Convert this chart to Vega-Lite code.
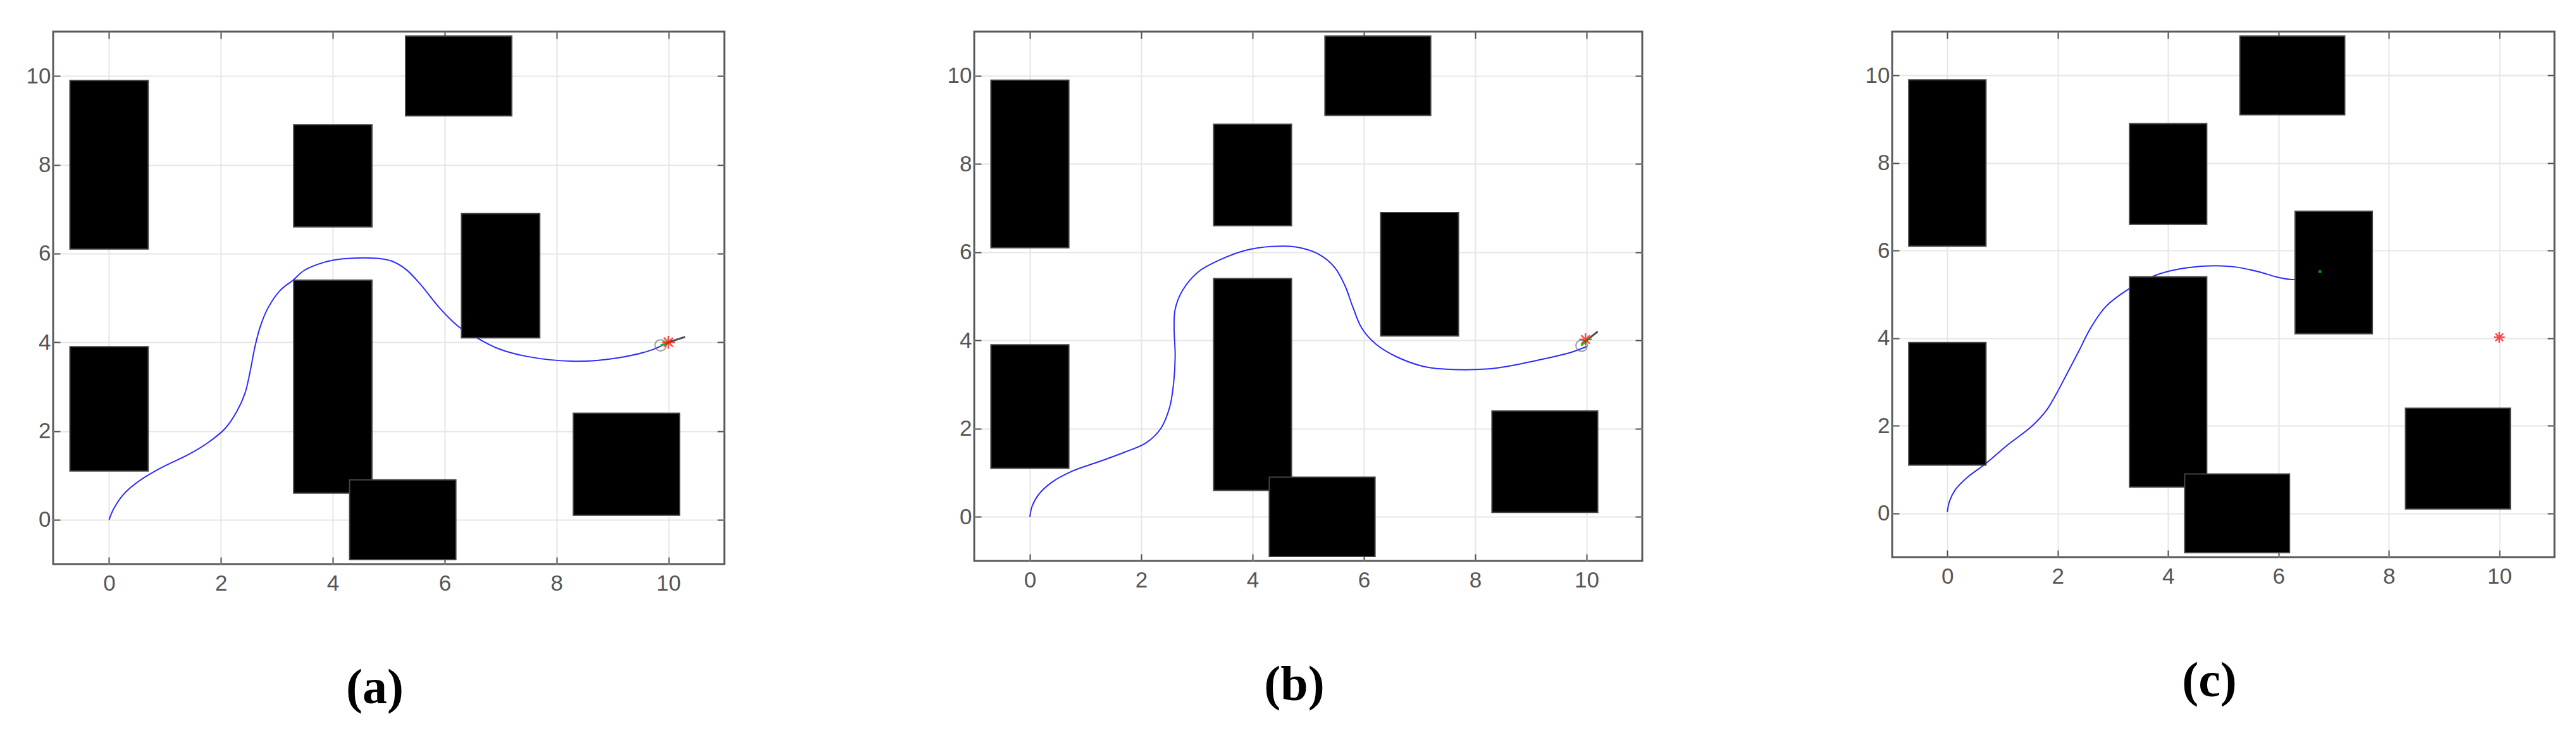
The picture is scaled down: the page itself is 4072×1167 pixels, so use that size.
{
  "$schema": "https://vega.github.io/schema/vega-lite/v6.json",
  "background": "white",
  "padding": {"left": 39, "top": 47, "right": 0, "bottom": 0},
  "spacing": 347,
  "config": {
    "view": {"stroke": "#5a5a5a", "strokeWidth": 3},
    "axis": {
      "title": null,
      "labelFont": "Liberation Sans",
      "labelFontSize": 35,
      "labelColor": "#555555",
      "gridColor": "#e6e6e6",
      "gridWidth": 2,
      "domain": false,
      "tickColor": "#505050",
      "tickWidth": 2,
      "tickSize": -11,
      "format": "d"
    },
    "axisBottom": {"labelPadding": 24},
    "axisLeft": {"labelPadding": 15},
    "title": {
      "font": "Liberation Serif",
      "fontSize": 78,
      "fontWeight": "bold",
      "color": "black",
      "orient": "bottom",
      "anchor": "middle",
      "offset": 110,
      "dx": -22
    }
  },
  "datasets": {
    "obstacles": [
      {"x1": -0.7, "x2": 0.7, "y1": 6.1, "y2": 9.9},
      {"x1": -0.7, "x2": 0.7, "y1": 1.1, "y2": 3.9},
      {"x1": 3.3, "x2": 4.7, "y1": 6.6, "y2": 8.9},
      {"x1": 3.3, "x2": 4.7, "y1": 0.6, "y2": 5.4},
      {"x1": 4.3, "x2": 6.2, "y1": -0.9, "y2": 0.9},
      {"x1": 5.3, "x2": 7.2, "y1": 9.1, "y2": 10.9},
      {"x1": 6.3, "x2": 7.7, "y1": 4.1, "y2": 6.9},
      {"x1": 8.3, "x2": 10.2, "y1": 0.1, "y2": 2.4}
    ],
    "paths": [
      {"panel": "a", "i": 0, "x": 0, "y": 0},
      {"panel": "a", "i": 1, "x": 0.08, "y": 0.24},
      {"panel": "a", "i": 2, "x": 0.25, "y": 0.56},
      {"panel": "a", "i": 3, "x": 0.51, "y": 0.85},
      {"panel": "a", "i": 4, "x": 0.9, "y": 1.15},
      {"panel": "a", "i": 5, "x": 1.42, "y": 1.47},
      {"panel": "a", "i": 6, "x": 1.76, "y": 1.73},
      {"panel": "a", "i": 7, "x": 2.07, "y": 2.05},
      {"panel": "a", "i": 8, "x": 2.28, "y": 2.43},
      {"panel": "a", "i": 9, "x": 2.43, "y": 2.85},
      {"panel": "a", "i": 10, "x": 2.52, "y": 3.33},
      {"panel": "a", "i": 11, "x": 2.61, "y": 3.91},
      {"panel": "a", "i": 12, "x": 2.7, "y": 4.34},
      {"panel": "a", "i": 13, "x": 2.84, "y": 4.77},
      {"panel": "a", "i": 14, "x": 3.06, "y": 5.17},
      {"panel": "a", "i": 15, "x": 3.29, "y": 5.4},
      {"panel": "a", "i": 16, "x": 3.49, "y": 5.62},
      {"panel": "a", "i": 17, "x": 3.84, "y": 5.8},
      {"panel": "a", "i": 18, "x": 4.18, "y": 5.88},
      {"panel": "a", "i": 19, "x": 4.79, "y": 5.89},
      {"panel": "a", "i": 20, "x": 5.05, "y": 5.83},
      {"panel": "a", "i": 21, "x": 5.31, "y": 5.64},
      {"panel": "a", "i": 22, "x": 5.57, "y": 5.3},
      {"panel": "a", "i": 23, "x": 5.91, "y": 4.77},
      {"panel": "a", "i": 24, "x": 6.26, "y": 4.34},
      {"panel": "a", "i": 25, "x": 6.56, "y": 4.11},
      {"panel": "a", "i": 26, "x": 6.95, "y": 3.86},
      {"panel": "a", "i": 27, "x": 7.47, "y": 3.68},
      {"panel": "a", "i": 28, "x": 8.33, "y": 3.57},
      {"panel": "a", "i": 29, "x": 9.11, "y": 3.65},
      {"panel": "a", "i": 30, "x": 9.71, "y": 3.83},
      {"panel": "a", "i": 31, "x": 10.0, "y": 4.0},
      {"panel": "b", "i": 0, "x": 0, "y": 0},
      {"panel": "b", "i": 1, "x": 0.04, "y": 0.24},
      {"panel": "b", "i": 2, "x": 0.16, "y": 0.51},
      {"panel": "b", "i": 3, "x": 0.39, "y": 0.78},
      {"panel": "b", "i": 4, "x": 0.77, "y": 1.04},
      {"panel": "b", "i": 5, "x": 1.24, "y": 1.25},
      {"panel": "b", "i": 6, "x": 1.71, "y": 1.47},
      {"panel": "b", "i": 7, "x": 2.09, "y": 1.68},
      {"panel": "b", "i": 8, "x": 2.35, "y": 2.0},
      {"panel": "b", "i": 9, "x": 2.51, "y": 2.48},
      {"panel": "b", "i": 10, "x": 2.58, "y": 3.01},
      {"panel": "b", "i": 11, "x": 2.61, "y": 3.65},
      {"panel": "b", "i": 12, "x": 2.59, "y": 4.28},
      {"panel": "b", "i": 13, "x": 2.61, "y": 4.71},
      {"panel": "b", "i": 14, "x": 2.74, "y": 5.13},
      {"panel": "b", "i": 15, "x": 3.03, "y": 5.56},
      {"panel": "b", "i": 16, "x": 3.4, "y": 5.82},
      {"panel": "b", "i": 17, "x": 3.87, "y": 6.04},
      {"panel": "b", "i": 18, "x": 4.34, "y": 6.13},
      {"panel": "b", "i": 19, "x": 4.81, "y": 6.11},
      {"panel": "b", "i": 20, "x": 5.19, "y": 5.95},
      {"panel": "b", "i": 21, "x": 5.47, "y": 5.66},
      {"panel": "b", "i": 22, "x": 5.66, "y": 5.24},
      {"panel": "b", "i": 23, "x": 5.8, "y": 4.76},
      {"panel": "b", "i": 24, "x": 5.96, "y": 4.28},
      {"panel": "b", "i": 25, "x": 6.22, "y": 3.91},
      {"panel": "b", "i": 26, "x": 6.6, "y": 3.62},
      {"panel": "b", "i": 27, "x": 7.07, "y": 3.41},
      {"panel": "b", "i": 28, "x": 7.44, "y": 3.35},
      {"panel": "b", "i": 29, "x": 8.2, "y": 3.35},
      {"panel": "b", "i": 30, "x": 8.66, "y": 3.43},
      {"panel": "b", "i": 31, "x": 9.23, "y": 3.58},
      {"panel": "b", "i": 32, "x": 9.7, "y": 3.72},
      {"panel": "b", "i": 33, "x": 10.0, "y": 3.86},
      {"panel": "c", "i": 0, "x": 0, "y": 0.03},
      {"panel": "c", "i": 1, "x": 0.04, "y": 0.28},
      {"panel": "c", "i": 2, "x": 0.15, "y": 0.55},
      {"panel": "c", "i": 3, "x": 0.37, "y": 0.83},
      {"panel": "c", "i": 4, "x": 0.69, "y": 1.13},
      {"panel": "c", "i": 5, "x": 1.09, "y": 1.56},
      {"panel": "c", "i": 6, "x": 1.53, "y": 1.99},
      {"panel": "c", "i": 7, "x": 1.8, "y": 2.36},
      {"panel": "c", "i": 8, "x": 1.98, "y": 2.74},
      {"panel": "c", "i": 9, "x": 2.16, "y": 3.17},
      {"panel": "c", "i": 10, "x": 2.38, "y": 3.7},
      {"panel": "c", "i": 11, "x": 2.6, "y": 4.24},
      {"panel": "c", "i": 12, "x": 2.87, "y": 4.72},
      {"panel": "c", "i": 13, "x": 3.27, "y": 5.11},
      {"panel": "c", "i": 14, "x": 3.76, "y": 5.43},
      {"panel": "c", "i": 15, "x": 4.21, "y": 5.58},
      {"panel": "c", "i": 16, "x": 4.74, "y": 5.65},
      {"panel": "c", "i": 17, "x": 5.19, "y": 5.63},
      {"panel": "c", "i": 18, "x": 5.63, "y": 5.52},
      {"panel": "c", "i": 19, "x": 5.99, "y": 5.39},
      {"panel": "c", "i": 20, "x": 6.28, "y": 5.34},
      {"panel": "c", "i": 21, "x": 6.75, "y": 5.5}
    ],
    "circles": [
      {"panel": "a", "x": 9.86, "y": 3.93},
      {"panel": "b", "x": 9.91, "y": 3.88}
    ],
    "segments": [
      {"panel": "a", "kind": "heading", "x": 10.0, "y": 4.0, "x2": 10.3, "y2": 4.12},
      {"panel": "a", "kind": "robot", "x": 9.86, "y": 3.93, "x2": 10.05, "y2": 4.01},
      {"panel": "b", "kind": "heading", "x": 9.98, "y": 3.98, "x2": 10.2, "y2": 4.2},
      {"panel": "b", "kind": "robot", "x": 9.9, "y": 3.88, "x2": 10.05, "y2": 4.05}
    ],
    "goals": [
      {"panel": "a", "x": 10.0, "y": 4.0},
      {"panel": "b", "x": 9.98, "y": 4.02},
      {"panel": "c", "x": 10.0, "y": 4.02}
    ],
    "dots": [
      {"panel": "c", "x": 6.75, "y": 5.52}
    ]
  },
  "hconcat": [
    {
      "width": 1061, "height": 842,
      "title": {"text": "(a)"},
      "resolve": {"axis": {"x": "independent", "y": "independent"}},
      "layer": [
        {
          "data": {"name": "paths"},
          "transform": [{"filter": "datum.panel === 'a'"}],
          "mark": {"type": "line", "color": "#2b2bff", "strokeWidth": 2, "interpolate": "catmull-rom"},
          "encoding": {
            "x": {"field": "x", "type": "quantitative", "scale": {"domain": [-1, 11], "nice": false, "zero": false}, "axis": {"orient": "bottom", "grid": true, "values": [0, 2, 4, 6, 8, 10]}},
            "y": {"field": "y", "type": "quantitative", "scale": {"domain": [-1, 11], "nice": false, "zero": false}, "axis": {"orient": "left", "grid": true, "values": [0, 2, 4, 6, 8, 10]}},
            "order": {"field": "i", "type": "quantitative"}
          }
        },
        {
          "data": {"name": "obstacles"},
          "mark": {"type": "rect", "fill": "black", "stroke": "#444", "strokeWidth": 2},
          "encoding": {
            "x": {"field": "x1", "type": "quantitative", "axis": {"orient": "top", "grid": false, "labels": false, "values": [0, 2, 4, 6, 8, 10]}},
            "x2": {"field": "x2"},
            "y": {"field": "y1", "type": "quantitative", "axis": {"orient": "right", "grid": false, "labels": false, "values": [0, 2, 4, 6, 8, 10]}},
            "y2": {"field": "y2"}
          }
        },
        {
          "data": {"name": "circles"},
          "transform": [{"filter": "datum.panel === 'a'"}],
          "mark": {"type": "point", "shape": "circle", "filled": false, "stroke": "#707070", "strokeWidth": 2, "size": 320},
          "encoding": {
            "x": {"field": "x", "type": "quantitative", "axis": null},
            "y": {"field": "y", "type": "quantitative", "axis": null}
          }
        },
        {
          "data": {"name": "segments"},
          "transform": [{"filter": "datum.panel === 'a'"}],
          "mark": {"type": "rule", "strokeWidth": 3},
          "encoding": {
            "x": {"field": "x", "type": "quantitative", "axis": null},
            "y": {"field": "y", "type": "quantitative", "axis": null},
            "x2": {"field": "x2"},
            "y2": {"field": "y2"},
            "color": {"field": "kind", "type": "nominal", "scale": {"domain": ["heading", "robot"], "range": ["#505050", "#00cc00"]}, "legend": null}
          }
        },
        {
          "data": {"name": "goals"},
          "transform": [{"filter": "datum.panel === 'a'"}],
          "mark": {"type": "point", "shape": "M-1,0L1,0M0,-1L0,1M-0.7,-0.7L0.7,0.7M-0.7,0.7L0.7,-0.7", "filled": false, "stroke": "#ff0000", "strokeWidth": 2.5, "size": 420},
          "encoding": {
            "x": {"field": "x", "type": "quantitative", "axis": null},
            "y": {"field": "y", "type": "quantitative", "axis": null}
          }
        }
      ]
    },
    {
      "width": 1056, "height": 837,
      "title": {"text": "(b)"},
      "resolve": {"axis": {"x": "independent", "y": "independent"}},
      "layer": [
        {
          "data": {"name": "paths"},
          "transform": [{"filter": "datum.panel === 'b'"}],
          "mark": {"type": "line", "color": "#2b2bff", "strokeWidth": 2, "interpolate": "catmull-rom"},
          "encoding": {
            "x": {"field": "x", "type": "quantitative", "scale": {"domain": [-1, 11], "nice": false, "zero": false}, "axis": {"orient": "bottom", "grid": true, "values": [0, 2, 4, 6, 8, 10]}},
            "y": {"field": "y", "type": "quantitative", "scale": {"domain": [-1, 11], "nice": false, "zero": false}, "axis": {"orient": "left", "grid": true, "values": [0, 2, 4, 6, 8, 10]}},
            "order": {"field": "i", "type": "quantitative"}
          }
        },
        {
          "data": {"name": "obstacles"},
          "mark": {"type": "rect", "fill": "black", "stroke": "#444", "strokeWidth": 2},
          "encoding": {
            "x": {"field": "x1", "type": "quantitative", "axis": {"orient": "top", "grid": false, "labels": false, "values": [0, 2, 4, 6, 8, 10]}},
            "x2": {"field": "x2"},
            "y": {"field": "y1", "type": "quantitative", "axis": {"orient": "right", "grid": false, "labels": false, "values": [0, 2, 4, 6, 8, 10]}},
            "y2": {"field": "y2"}
          }
        },
        {
          "data": {"name": "circles"},
          "transform": [{"filter": "datum.panel === 'b'"}],
          "mark": {"type": "point", "shape": "circle", "filled": false, "stroke": "#707070", "strokeWidth": 2, "size": 320},
          "encoding": {
            "x": {"field": "x", "type": "quantitative", "axis": null},
            "y": {"field": "y", "type": "quantitative", "axis": null}
          }
        },
        {
          "data": {"name": "segments"},
          "transform": [{"filter": "datum.panel === 'b'"}],
          "mark": {"type": "rule", "strokeWidth": 3},
          "encoding": {
            "x": {"field": "x", "type": "quantitative", "axis": null},
            "y": {"field": "y", "type": "quantitative", "axis": null},
            "x2": {"field": "x2"},
            "y2": {"field": "y2"},
            "color": {"field": "kind", "type": "nominal", "scale": {"domain": ["heading", "robot"], "range": ["#505050", "#00cc00"]}, "legend": null}
          }
        },
        {
          "data": {"name": "goals"},
          "transform": [{"filter": "datum.panel === 'b'"}],
          "mark": {"type": "point", "shape": "M-1,0L1,0M0,-1L0,1M-0.7,-0.7L0.7,0.7M-0.7,0.7L0.7,-0.7", "filled": false, "stroke": "#ff0000", "strokeWidth": 2.5, "size": 380},
          "encoding": {
            "x": {"field": "x", "type": "quantitative", "axis": null},
            "y": {"field": "y", "type": "quantitative", "axis": null}
          }
        }
      ]
    },
    {
      "width": 1047, "height": 831,
      "title": {"text": "(c)"},
      "resolve": {"axis": {"x": "independent", "y": "independent"}},
      "layer": [
        {
          "data": {"name": "paths"},
          "transform": [{"filter": "datum.panel === 'c'"}],
          "mark": {"type": "line", "color": "#2b2bff", "strokeWidth": 2, "interpolate": "catmull-rom"},
          "encoding": {
            "x": {"field": "x", "type": "quantitative", "scale": {"domain": [-1, 11], "nice": false, "zero": false}, "axis": {"orient": "bottom", "grid": true, "values": [0, 2, 4, 6, 8, 10]}},
            "y": {"field": "y", "type": "quantitative", "scale": {"domain": [-1, 11], "nice": false, "zero": false}, "axis": {"orient": "left", "grid": true, "values": [0, 2, 4, 6, 8, 10]}},
            "order": {"field": "i", "type": "quantitative"}
          }
        },
        {
          "data": {"name": "obstacles"},
          "mark": {"type": "rect", "fill": "black", "stroke": "#444", "strokeWidth": 2},
          "encoding": {
            "x": {"field": "x1", "type": "quantitative", "axis": {"orient": "top", "grid": false, "labels": false, "values": [0, 2, 4, 6, 8, 10]}},
            "x2": {"field": "x2"},
            "y": {"field": "y1", "type": "quantitative", "axis": {"orient": "right", "grid": false, "labels": false, "values": [0, 2, 4, 6, 8, 10]}},
            "y2": {"field": "y2"}
          }
        },
        {
          "data": {"name": "dots"},
          "mark": {"type": "point", "shape": "square", "filled": true, "color": "#00dd00", "size": 20},
          "encoding": {
            "x": {"field": "x", "type": "quantitative", "axis": null},
            "y": {"field": "y", "type": "quantitative", "axis": null}
          }
        },
        {
          "data": {"name": "goals"},
          "transform": [{"filter": "datum.panel === 'c'"}],
          "mark": {"type": "point", "shape": "M-1,0L1,0M0,-1L0,1M-0.7,-0.7L0.7,0.7M-0.7,0.7L0.7,-0.7", "filled": false, "stroke": "#ff0000", "strokeWidth": 2.5, "size": 300},
          "encoding": {
            "x": {"field": "x", "type": "quantitative", "axis": null},
            "y": {"field": "y", "type": "quantitative", "axis": null}
          }
        }
      ]
    }
  ]
}
